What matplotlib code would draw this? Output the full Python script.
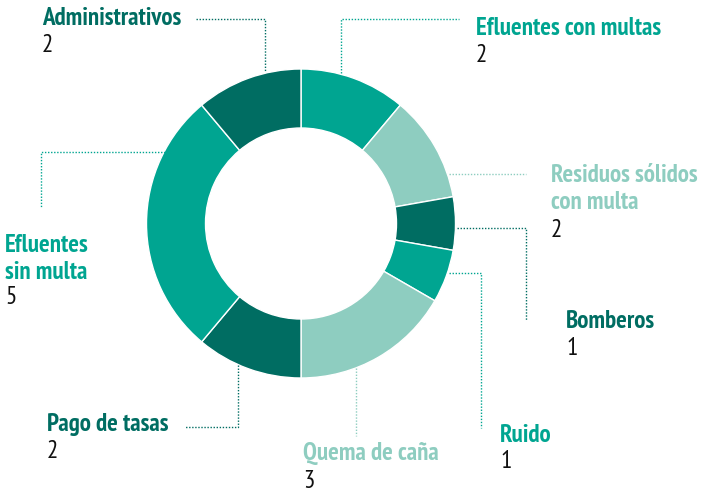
import matplotlib.pyplot as plt

# ---------------------------------------
# Data (clockwise from 12 o'clock)
# ---------------------------------------
categories = [
    "Efluentes con multas",
    "Residuos sólidos\ncon multa",
    "Bomberos",
    "Ruido",
    "Quema de caña",
    "Pago de tasas",
    "Efluentes\nsin multa",
    "Administrativos",
]
values = [2, 2, 1, 1, 3, 2, 5, 2]

TEAL = "#00a591"
LIGHT = "#8ecdc0"
DARK = "#006d62"
slice_colors = [TEAL, LIGHT, DARK, TEAL, LIGHT, DARK, TEAL, DARK]

# label layout in pixel coords: (x, first baseline, number baseline)
label_pos = [
    (476, 35, 62),
    (551, 182, 237),
    (566, 328, 355),
    (500, 442, 468),
    (303, 460, 488),
    (47, 431, 458),
    (5, 252, 304),
    (42, 25, 52),
]

# leader lines (pixel coords)
leaders = [
    ([341, 341, 459], [73, 19, 19]),
    ([449, 526], [174, 174]),
    ([457, 526, 526], [228, 228, 320]),
    ([449, 481, 481], [273, 273, 428]),
    ([356, 356], [368, 436]),
    ([238, 238, 184], [365, 427, 427]),
    ([165, 41, 41], [152, 152, 208]),
    ([196, 265, 265], [19, 19, 72]),
]

plt.rcParams["font.family"] = ["PT Sans Narrow", "DejaVu Sans"]

fig = plt.figure(figsize=(7.02, 4.92), dpi=100)
ax = fig.add_axes([0, 0, 1, 1])

ax.pie(
    values,
    colors=slice_colors,
    radius=154.5,
    center=(301, 223.5),
    startangle=-90,
    counterclock=True,
    wedgeprops=dict(width=59, edgecolor="white", linewidth=1),
)

for (xs, ys), c in zip(leaders, slice_colors):
    ax.plot(xs, ys, color=c, linewidth=1, linestyle=(0, (1, 1.2)))

line_gap = 27
for name, val, c, (x, yb, yn) in zip(categories, values, slice_colors, label_pos):
    for i, part in enumerate(name.split("\n")):
        ax.text(x, yb + i * line_gap, part, color=c, fontsize=18,
                fontweight="bold", va="baseline", ha="left")
    ax.text(x, yn, str(val), color="#111111", fontsize=18,
            va="baseline", ha="left")

ax.set_xlim(0, 702)
ax.set_ylim(492, 0)
ax.set_aspect("equal")
ax.axis("off")

fig.savefig("out.png", dpi=100)
plt.close(fig)
